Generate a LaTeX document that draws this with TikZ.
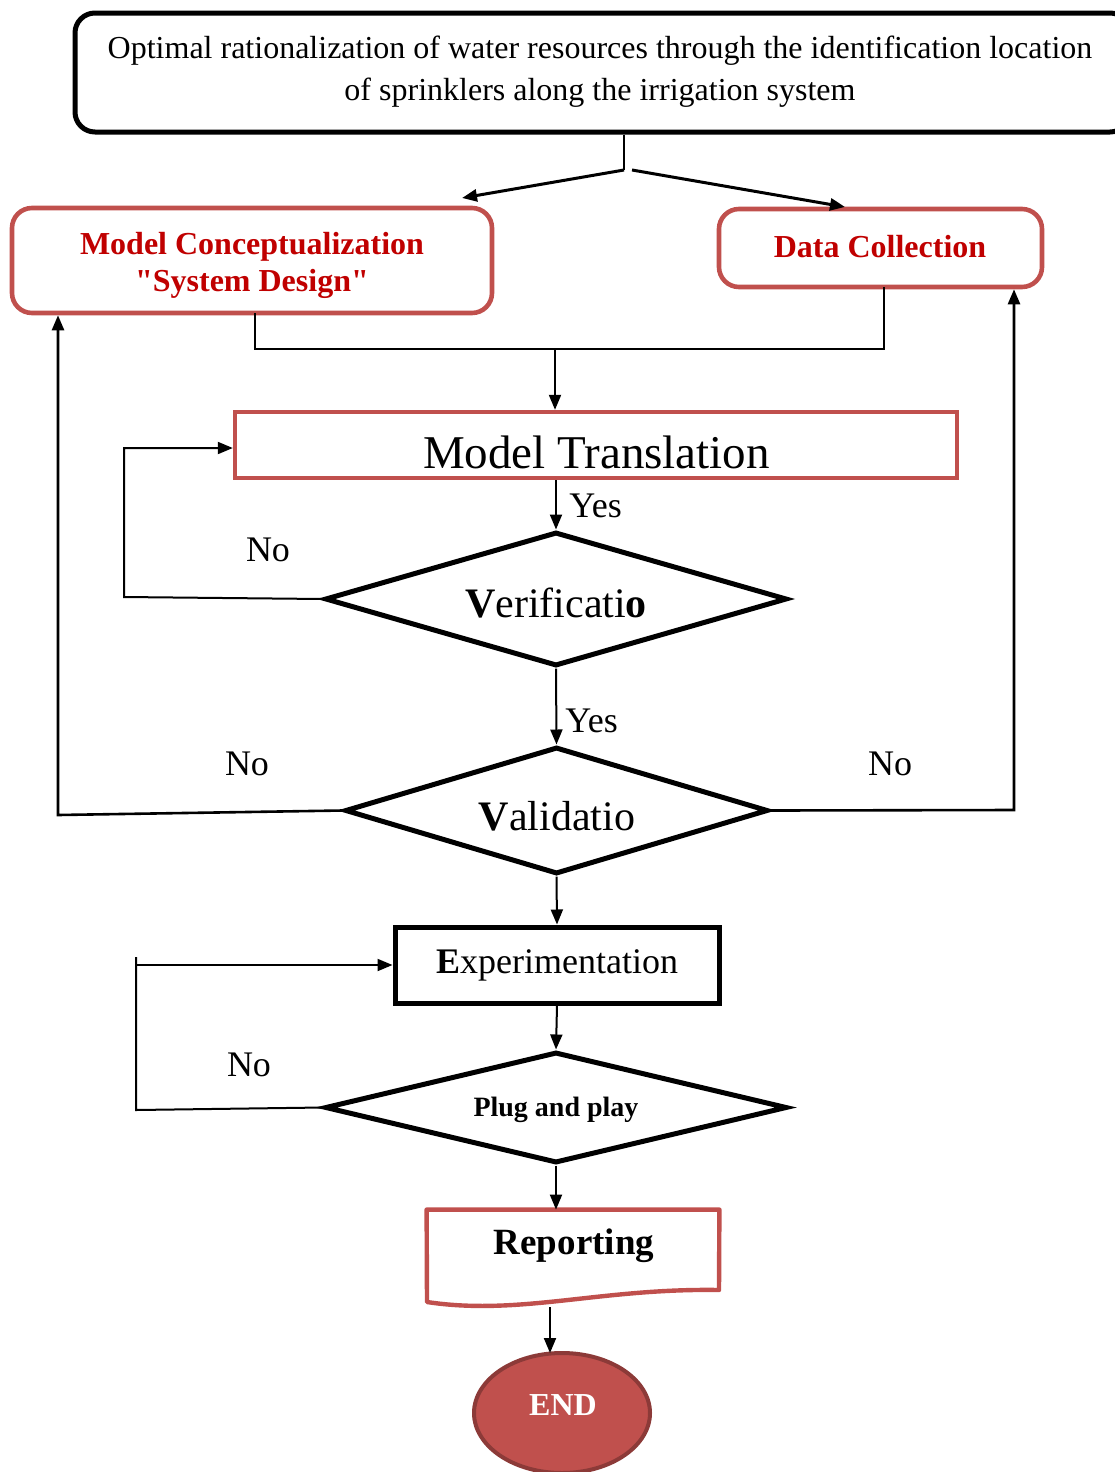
\documentclass[tikz,border=0pt]{standalone}
\usepackage{fontspec}
\setmainfont{Liberation Serif}[Ligatures=TeXOff]
\usetikzlibrary{shapes.geometric,arrows.meta,calc}
\definecolor{boxred}{HTML}{C0504D}
\definecolor{textred}{HTML}{C00000}
\definecolor{endedge}{HTML}{8C3A38}

\begin{document}
\begin{tikzpicture}[x=0.5pt,y=-0.5pt,
  tip/.style={-{Triangle[length=7.5pt,width=6pt]}},
  conn/.style={line width=1pt,tip},
  link/.style={line width=1pt},
  redbox/.style={draw=boxred,line width=2.3pt,rounded corners=10pt,inner sep=0pt},
  redtext/.style={inner sep=0pt,align=center,text=textred,
    font=\bfseries\fontsize{16}{18.5}\selectfont},
  decision/.style={diamond,draw=black,line width=2.5pt,inner sep=0pt},
  lbl/.style={font=\fontsize{18}{20}\selectfont,inner sep=0pt}
]
\useasboundingbox (0,0) rectangle (1114,1472);

% --- boxes ---------------------------------------------------------------
\node[draw=black,line width=2.5pt,rounded corners=10pt,inner sep=0pt,
      minimum width=527.5pt,minimum height=59.5pt] (goal) at (602.5,72.5) {};
\node[align=center,inner sep=0pt,font=\fontsize{16}{21}\selectfont] (goallabel)
  at (600,72) {Optimal rationalization of water resources through the identification location\\
   of sprinklers along the irrigation system};

\node[redbox,minimum width=240pt,minimum height=52.5pt] (mc) at (252,260.5) {};
\node[redtext] (mclabel) at (252,265)
  {Model Conceptualization\\"System Design"};

\node[redbox,minimum width=161.5pt,minimum height=39pt] (dc) at (880.5,248) {};
\node[redtext] (dclabel) at (880,247) {Data Collection};

\node[draw=boxred,line width=2.2pt,inner sep=0pt,minimum width=361pt,
      minimum height=33pt] (mt) at (596,445) {};
\node[font=\fontsize{23.5}{25}\selectfont,inner sep=0pt] (mtlabel) at (596.5,452)
  {Model Translation};

\node[decision,aspect=3.45,minimum width=231pt,minimum height=67pt] (ver) at (556,599) {};
\node[font=\fontsize{21}{23}\selectfont,inner sep=0pt] (verlabel) at (556,603)
  {\textbf{V}erificati\textbf{o}};

\node[decision,aspect=3.33,minimum width=211.5pt,minimum height=63.5pt] (val) at (556.5,810.5) {};
\node[font=\fontsize{21}{23}\selectfont,inner sep=0pt] (vallabel) at (557,816)
  {\textbf{V}alidatio};

\node[draw=black,line width=2.5pt,inner sep=0pt,minimum width=162pt,
      minimum height=38pt,font=\fontsize{18}{20}\selectfont] (exp) at (557,965)
  {\textbf{E}xperimentation};

\node[decision,aspect=4.16,minimum width=231pt,minimum height=55.5pt] (pnp) at (556,1107.5) {};
\node[font=\bfseries\fontsize{14}{16}\selectfont,inner sep=0pt] (pnplabel) at (556,1110)
  {Plug and play};

% document-shaped report box
\node[inner sep=0pt,minimum width=146pt,minimum height=47.5pt] (rep) at (573,1257.5) {};
\draw[draw=boxred,line width=2.2pt,line join=round]
  (rep.north west) -- (rep.north east) -- (719,1290)
  .. controls (600,1288) and (520,1316) .. (427,1302) -- cycle;
\node[font=\bfseries\fontsize{18.5}{20}\selectfont,inner sep=0pt] (replabel) at (574,1246)
  {Reporting};

\node[ellipse,fill=boxred,draw=endedge,line width=2pt,inner sep=0pt,
      minimum width=88pt,minimum height=60pt] (end) at (562,1413) {};
\node[text=white,font=\bfseries\fontsize{16}{18}\selectfont,inner sep=0pt] (endlabel)
  at (563,1405) {END};

% --- connectors -------------------------------------------------------------
\coordinate (split) at (624,170);
\coordinate (splitr) at (632,170);
\coordinate (mcin) at (462,198);
\coordinate (dcin) at (845,207);
\draw[line width=1.3pt] (split |- goal.south) -- (split);
\draw[line width=1.5pt,tip] (split) -- (mcin);
\draw[line width=1.5pt,tip] (splitr) -- (dcin);

\coordinate (join) at (555,349);
\draw[link] (255,313) |- (join) -| (884,287);
\draw[conn] (join) -- (join |- mt.north);

\draw[conn] (mt.south -| ver.north) -- (ver.north);
\node[lbl,anchor=west] (yes1) at (569,506) {Yes};

\coordinate (verback) at (124,597);
\draw[conn] (ver.west) -- (verback) |- (124,448) -- (mt.west |- 0,448);
\node[lbl] (no1) at (268,550) {No};

\draw[conn] (ver.south) -- (val.north);
\node[lbl,anchor=west] (yes2) at (565,721) {Yes};

\coordinate (valleft) at (58,815);
\draw[conn,line width=1.3pt] (val.west) -- (valleft) -- (valleft |- mc.south);
\node[lbl] (no2) at (247,764) {No};

\coordinate (valright) at (1014,810);
\draw[conn,line width=1.3pt] (val.east) -- (valright) -- (valright |- dc.south);
\node[lbl] (no3) at (890,764) {No};

\draw[conn] (val.south) -- (exp.north);

\coordinate (pnpback) at (136,1110);
\coordinate (pnptop) at (136,957);
\draw[link] (pnp.west) -- (pnpback) -- (pnptop);
\draw[conn] (pnptop |- exp.west) -- (exp.west);
\node[lbl] (no4) at (249,1065) {No};

\draw[conn] (exp.south) -- (pnp.north);
\draw[conn] (pnp.south) -- (pnp.south |- rep.north);
\draw[conn] (550,1307) -- (550,1353);
\end{tikzpicture}
\end{document}
